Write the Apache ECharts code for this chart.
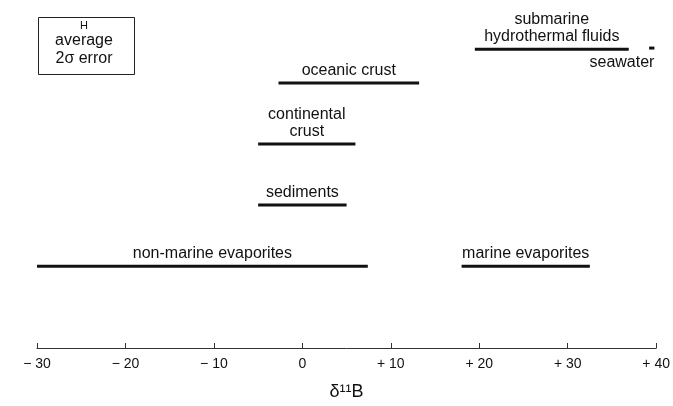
<!DOCTYPE html>
<html>
<head>
<meta charset="utf-8">
<script src="https://cdn.jsdelivr.net/npm/echarts@6/dist/echarts.min.js"></script>
<style>html,body{margin:0;padding:0;background:#fff}#c{width:673px;height:406px}</style>
</head>
<body>
<div id="c"></div>
<script>
// Reservoir names (labels), delta-11B ranges and row levels
const names = ['non-marine evaporites', 'marine evaporites', 'sediments', 'continental\ncrust', 'oceanic crust', 'submarine\nhydrothermal fluids', 'seawater'];
const lows  = [-30, 18, -5, -5, -2.7, 19.5, 39.2];
const highs = [7.4, 32.5, 5, 6, 13.2, 36.9, 39.8];
const levels = [1, 1, 2, 3, 4, 4.55, 4.57];
const tickValues = [-30, -20, -10, 0, 10, 20, 30, 40];
const axisTitle = 'δ¹¹B';
const legendLines = ['H', 'average', '2σ error'];

// label placement (styling only)
const labelPlace = {
  'non-marine evaporites': {dx: 10, where: 'above'},
  'seawater': {dx: 0, where: 'belowRight'}
};

const FONT = '"Liberation Sans", Arial, Helvetica, sans-serif';
const chart = echarts.init(document.getElementById('c'), null, {renderer: 'canvas'});

const data = names.map((n, i) => [lows[i], highs[i], levels[i], n]);

chart.setOption({
  backgroundColor: '#fff',
  animation: false,
  grid: {left: 37, right: 13, top: 8, bottom: 53, containLabel: false},
  xAxis: {
    type: 'value', min: -30, max: 40, interval: 10,
    axisLine: {show: true, onZero: false, lineStyle: {color: '#333', width: 1}},
    axisTick: {show: true, inside: true, length: 5, lineStyle: {color: '#333'}},
    splitLine: {show: false},
    axisLabel: {
      margin: 9, color: '#111', fontSize: 14, fontFamily: FONT,
      formatter: v => tickValues.includes(v) ? (v < 0 ? '\u2212 ' + Math.abs(v) : v > 0 ? '+ ' + v : '0') : ''
    },
    name: axisTitle, nameLocation: 'middle', nameGap: 35,
    nameTextStyle: {color: '#111', fontSize: 18, fontFamily: FONT}
  },
  yAxis: {type: 'value', min: -0.34, max: 5.226, show: false},
  graphic: [
    {type: 'rect', left: 36, top: 15, shape: {width: 96, height: 57}, style: {fill: 'none', stroke: '#222', lineWidth: 1}},
    {type: 'text', x: 84, y: 26, style: {text: legendLines[0], textAlign: 'center', textVerticalAlign: 'middle', font: '11px ' + FONT, fill: '#111'}},
    {type: 'text', x: 84, y: 41, style: {text: legendLines[1], textAlign: 'center', textVerticalAlign: 'middle', font: '16px ' + FONT, fill: '#111'}},
    {type: 'text', x: 84, y: 59, style: {text: legendLines[2], textAlign: 'center', textVerticalAlign: 'middle', font: '16px ' + FONT, fill: '#111'}}
  ],
  series: [{
    type: 'custom',
    clip: false,
    data: data,
    encode: {x: [0, 1], y: 2},
    renderItem: function (params, api) {
      const i = params.dataIndex;
      const name = names[i];
      const p1 = api.coord([api.value(0), api.value(2)]);
      const p2 = api.coord([api.value(1), api.value(2)]);
      const place = labelPlace[name] || {dx: 0, where: 'above'};
      let tx, ty, ta, tva;
      if (place.where === 'belowRight') {
        tx = p2[0]; ty = p2[1] + 6; ta = 'right'; tva = 'top';
      } else {
        tx = (p1[0] + p2[0]) / 2 + place.dx; ty = p1[1] - 4; ta = 'center'; tva = 'bottom';
      }
      return {
        type: 'group',
        children: [
          {type: 'line', shape: {x1: p1[0], y1: p1[1], x2: p2[0], y2: p2[1]}, style: {stroke: '#111', lineWidth: 3}},
          {type: 'text', style: {text: name, x: tx, y: ty, textAlign: ta, textVerticalAlign: tva, font: '16px ' + FONT, lineHeight: 17, fill: '#111'}}
        ]
      };
    }
  }]
});
</script>
</body>
</html>
